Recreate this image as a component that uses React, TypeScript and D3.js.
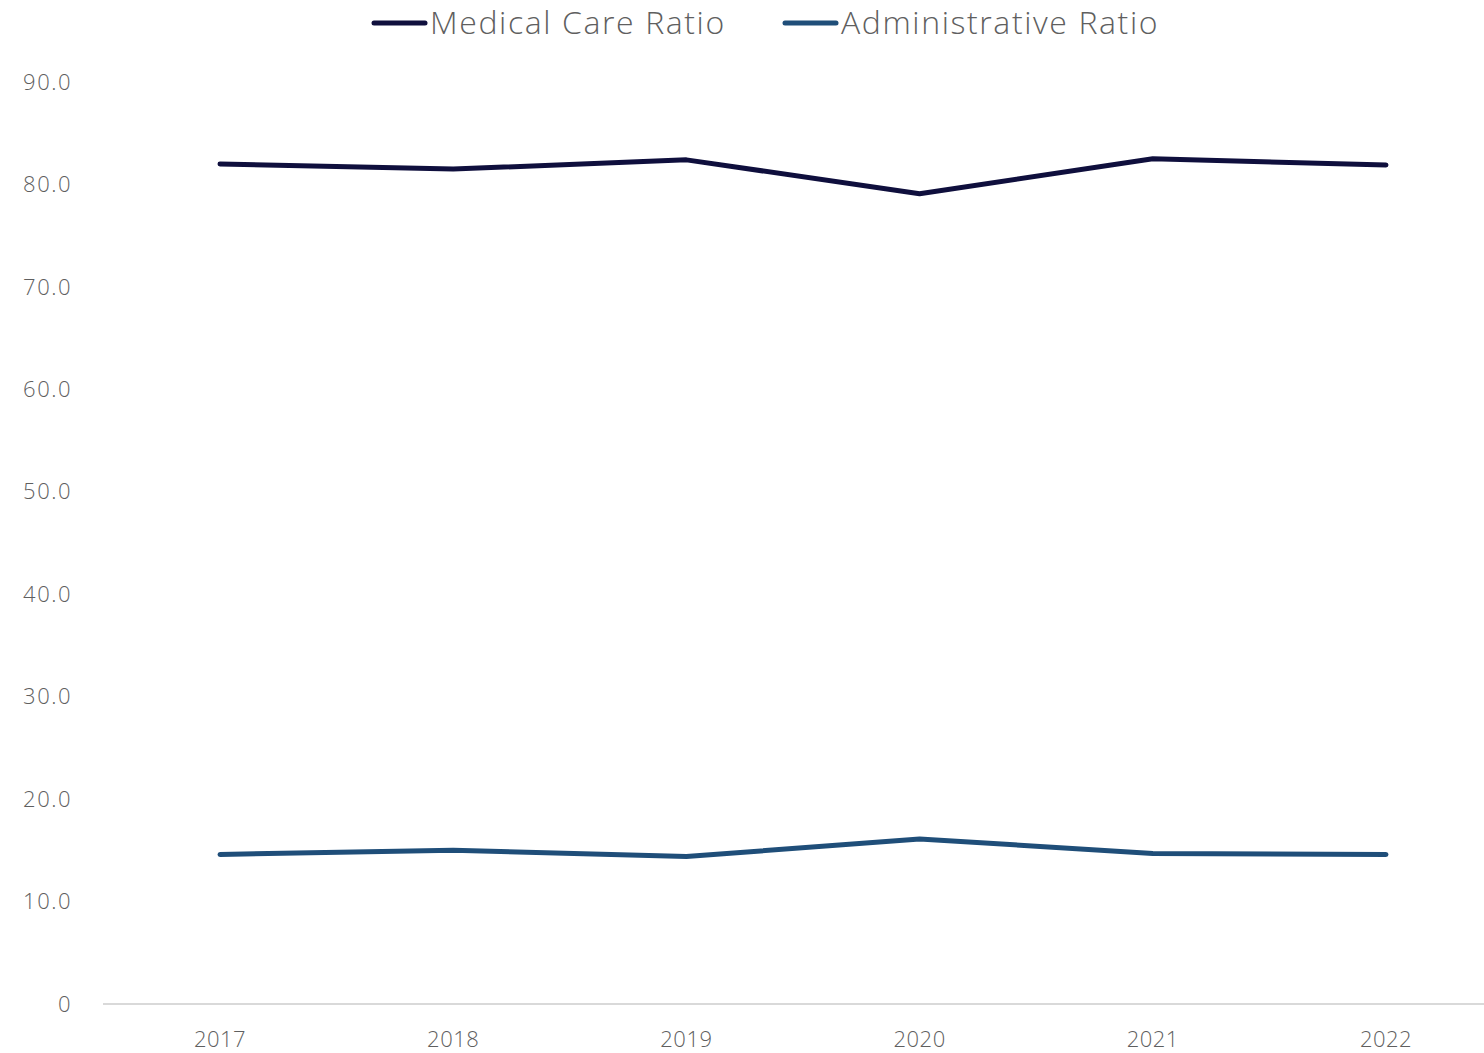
import React from "react";
import * as d3 from "d3";

const years = ["2017", "2018", "2019", "2020", "2021", "2022"];
const medicalCare = [82.0, 81.5, 82.4, 79.1, 82.5, 81.9];
const administrative = [14.6, 15.0, 14.4, 16.1, 14.7, 14.6];
const yTicks = [0, 10, 20, 30, 40, 50, 60, 70, 80, 90];
const seriesNames = ["Medical Care Ratio", "Administrative Ratio"];
const seriesColors = ["#0f0f3d", "#1f4e79"];

const W = 1484;
const H = 1053;
const FONT = "'Open Sans', 'Noto Sans', sans-serif";

export default function App() {
  const x = d3.scalePoint<string>().domain(years).range([220, 1386]);
  const y = d3.scaleLinear().domain([0, 90]).range([1004, 82]);
  const line = d3
    .line<number>()
    .x((_, i) => x(years[i]) as number)
    .y((d) => y(d));
  const series = [medicalCare, administrative];
  const legendX = [372, 783];

  return (
    <svg
      width={W}
      height={H}
      style={{ position: "absolute", left: 0, top: 0, background: "#fff" }}
    >
      {yTicks.map((t) => (
        <text
          key={t}
          x={72}
          y={y(t)}
          dy="0.35em"
          textAnchor="end"
          fontFamily={FONT}
          fontWeight={300}
          fontSize={22}
          letterSpacing={1.5}
          fill="#5f5f5f"
        >
          {t === 0 ? "0" : t.toFixed(1)}
        </text>
      ))}
      <line x1={103} x2={1484} y1={y(0)} y2={y(0)} stroke="#d9d9d9" strokeWidth={2} />
      {years.map((yr) => (
        <text
          key={yr}
          x={x(yr)}
          y={1047}
          textAnchor="middle"
          fontFamily={FONT}
          fontWeight={300}
          fontSize={22}
          letterSpacing={0.5}
          fill="#5f5f5f"
        >
          {yr}
        </text>
      ))}
      {series.map((s, i) => (
        <path
          key={i}
          d={line(s) || ""}
          fill="none"
          stroke={seriesColors[i]}
          strokeWidth={5}
          strokeLinejoin="round"
          strokeLinecap="round"
        />
      ))}
      {seriesNames.map((n, i) => (
        <g key={n}>
          <line
            x1={legendX[i] + 2}
            x2={legendX[i] + 53}
            y1={23}
            y2={23}
            stroke={seriesColors[i]}
            strokeWidth={5}
            strokeLinecap="round"
          />
          <text
            x={legendX[i] + 58}
            y={23}
            dy="0.35em"
            fontFamily={FONT}
            fontWeight={300}
            fontSize={32}
            letterSpacing={1.6}
            fill="#5f5f5f"
          >
            {n}
          </text>
        </g>
      ))}
    </svg>
  );
}
